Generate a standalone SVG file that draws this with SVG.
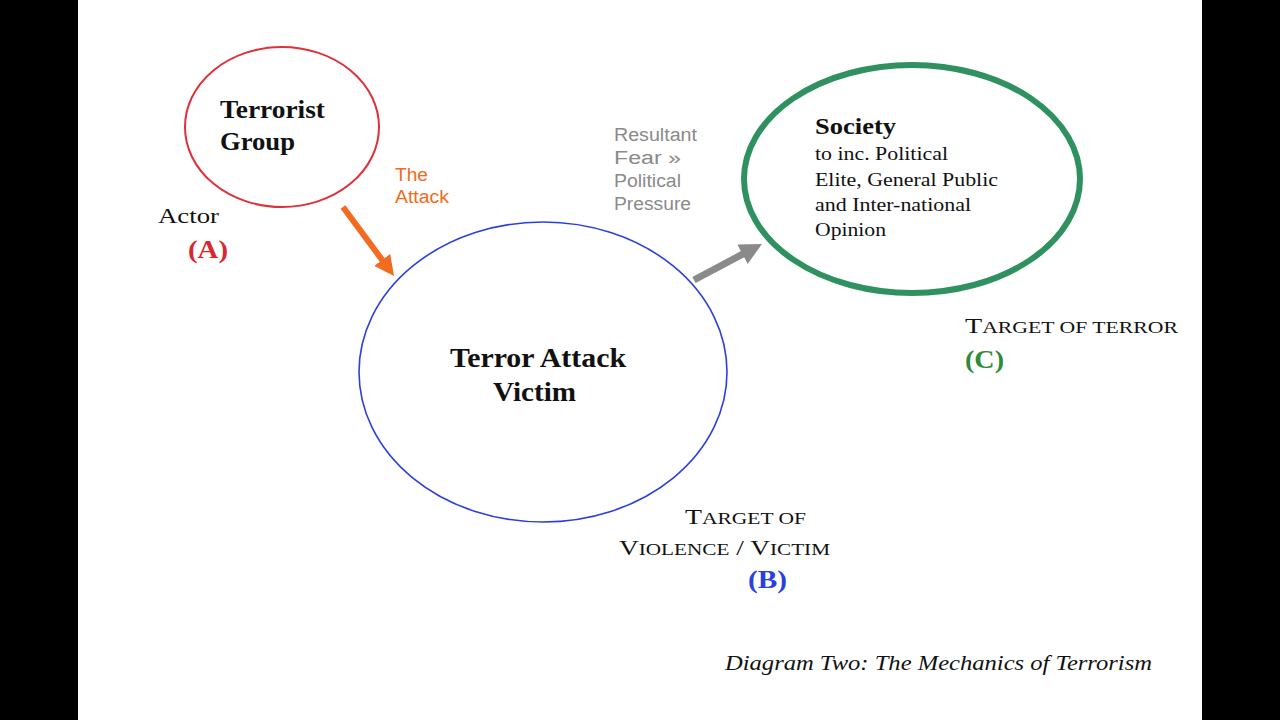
<svg xmlns="http://www.w3.org/2000/svg" width="1280" height="720" viewBox="0 0 1280 720">
<defs>
<style>
.serif{font-family:"Liberation Serif","Times New Roman",serif;fill:#111}
.sans{font-family:"Liberation Sans",Arial,sans-serif}
.b{font-weight:bold}
.sc{font-size:17px}
</style>
<marker id="ahO" viewBox="0 0 10 10" refX="2" refY="5" markerWidth="20" markerHeight="20" orient="auto" markerUnits="userSpaceOnUse"><path d="M0,0 L10,5 L0,10 z" fill="#f26b21"/></marker>
<marker id="ahG" viewBox="0 0 10 10" refX="2" refY="5" markerWidth="22" markerHeight="22" orient="auto" markerUnits="userSpaceOnUse"><path d="M0,0 L10,5 L0,10 z" fill="#8a8a8a"/></marker>
</defs>
<rect x="0" y="0" width="1280" height="720" fill="#000"/>
<rect x="78" y="0" width="1124" height="720" fill="#fff"/>

<g id="terrorist-group">
<ellipse cx="282" cy="127" rx="97" ry="80" fill="none" stroke="#e0303a" stroke-width="2"/>
<text class="serif b" x="220" y="118" font-size="26" textLength="105" lengthAdjust="spacingAndGlyphs">Terrorist</text>
<text class="serif b" x="220" y="150" font-size="26" textLength="75" lengthAdjust="spacingAndGlyphs">Group</text>
<text class="serif" x="158" y="223" font-size="22" textLength="61" lengthAdjust="spacingAndGlyphs">Actor</text>
<text class="serif b" x="188" y="258" font-size="25" textLength="40" lengthAdjust="spacingAndGlyphs" style="fill:#d6282f">(A)</text>
</g>

<g id="victim">
<ellipse cx="543" cy="372" rx="184" ry="150" fill="none" stroke="#2a3fe0" stroke-width="1.6"/>
<text class="serif b" x="450" y="367" font-size="27" textLength="176" lengthAdjust="spacingAndGlyphs">Terror Attack</text>
<text class="serif b" x="493" y="401" font-size="27" textLength="83" lengthAdjust="spacingAndGlyphs">Victim</text>
<text class="serif" x="685" y="524" font-size="22" textLength="121" lengthAdjust="spacingAndGlyphs">T<tspan class="sc">ARGET OF</tspan></text>
<text class="serif" x="619" y="555" font-size="22" textLength="211" lengthAdjust="spacingAndGlyphs">V<tspan class="sc">IOLENCE</tspan> / V<tspan class="sc">ICTIM</tspan></text>
<text class="serif b" x="748" y="588" font-size="25" textLength="39" lengthAdjust="spacingAndGlyphs" style="fill:#2a3fe0">(B)</text>
</g>

<g id="society">
<ellipse cx="912" cy="179" rx="168" ry="114" fill="none" stroke="#2f9160" stroke-width="6"/>
<text class="serif b" x="815" y="134" font-size="24" textLength="81" lengthAdjust="spacingAndGlyphs">Society</text>
<text class="serif" x="815" y="160" font-size="19.5" textLength="133" lengthAdjust="spacingAndGlyphs">to inc. Political</text>
<text class="serif" x="815" y="186" font-size="19.5" textLength="183" lengthAdjust="spacingAndGlyphs">Elite, General Public</text>
<text class="serif" x="815" y="211" font-size="19.5" textLength="156" lengthAdjust="spacingAndGlyphs">and Inter-national</text>
<text class="serif" x="815" y="236" font-size="19.5" textLength="71" lengthAdjust="spacingAndGlyphs">Opinion</text>
<text class="serif" x="965" y="333" font-size="22" textLength="213" lengthAdjust="spacingAndGlyphs">T<tspan class="sc">ARGET OF TERROR</tspan></text>
<text class="serif b" x="965" y="368" font-size="25" textLength="39" lengthAdjust="spacingAndGlyphs" style="fill:#2f8a3a">(C)</text>
</g>

<g id="connectors">
<line x1="343" y1="207" x2="384.5" y2="263.1" stroke="#f26b21" stroke-width="6" marker-end="url(#ahO)"/>
<text class="sans" x="395" y="181" font-size="18" fill="#f26b21" textLength="33" lengthAdjust="spacingAndGlyphs">The</text>
<text class="sans" x="395" y="203" font-size="18" fill="#f26b21" textLength="54" lengthAdjust="spacingAndGlyphs">Attack</text>
<line x1="694" y1="280" x2="746.4" y2="252.2" stroke="#8a8a8a" stroke-width="7" marker-end="url(#ahG)"/>
<text class="sans" x="614" y="141" font-size="18" fill="#8a8a8a" textLength="83" lengthAdjust="spacingAndGlyphs">Resultant</text>
<text class="sans" x="614" y="164" font-size="18" fill="#8a8a8a" textLength="67" lengthAdjust="spacingAndGlyphs">Fear »</text>
<text class="sans" x="614" y="187" font-size="18" fill="#8a8a8a" textLength="67" lengthAdjust="spacingAndGlyphs">Political</text>
<text class="sans" x="614" y="210" font-size="18" fill="#8a8a8a" textLength="77" lengthAdjust="spacingAndGlyphs">Pressure</text>
</g>

<text class="serif" x="725" y="670" font-size="22" font-style="italic" textLength="427" lengthAdjust="spacingAndGlyphs">Diagram Two: The Mechanics of Terrorism</text>
</svg>
